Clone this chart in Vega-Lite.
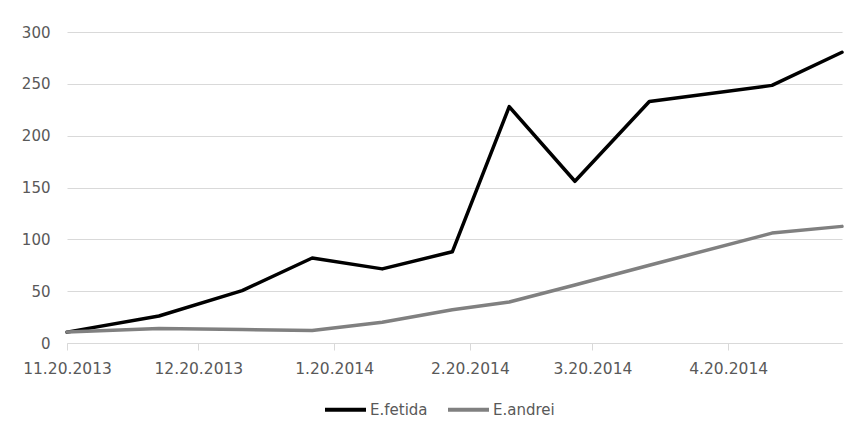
{
  "$schema": "https://vega.github.io/schema/vega-lite/v6.json",
  "width": 775,
  "height": 311,
  "autosize": {"type": "none"},
  "padding": {"left": 67, "top": 32, "right": 12, "bottom": 91},
  "background": "white",
  "config": {
    "view": {"stroke": null},
    "font": "DejaVu Sans"
  },
  "data": {
    "values": [
      {"date": "2013/11/20", "series": "E.fetida", "value": 10.5},
      {"date": "2013/12/11", "series": "E.fetida", "value": 26},
      {"date": "2013/12/30", "series": "E.fetida", "value": 50.5},
      {"date": "2014/01/15", "series": "E.fetida", "value": 82},
      {"date": "2014/01/31", "series": "E.fetida", "value": 71.5},
      {"date": "2014/02/16", "series": "E.fetida", "value": 88},
      {"date": "2014/03/01", "series": "E.fetida", "value": 228},
      {"date": "2014/03/16", "series": "E.fetida", "value": 156},
      {"date": "2014/04/02", "series": "E.fetida", "value": 233},
      {"date": "2014/04/30", "series": "E.fetida", "value": 248.5},
      {"date": "2014/05/16", "series": "E.fetida", "value": 280.5},
      {"date": "2013/11/20", "series": "E.andrei", "value": 10.5},
      {"date": "2013/12/11", "series": "E.andrei", "value": 14},
      {"date": "2013/12/30", "series": "E.andrei", "value": 13},
      {"date": "2014/01/15", "series": "E.andrei", "value": 12},
      {"date": "2014/01/31", "series": "E.andrei", "value": 20},
      {"date": "2014/02/16", "series": "E.andrei", "value": 32},
      {"date": "2014/03/01", "series": "E.andrei", "value": 39.5},
      {"date": "2014/03/16", "series": "E.andrei", "value": 56},
      {"date": "2014/04/02", "series": "E.andrei", "value": 75},
      {"date": "2014/04/30", "series": "E.andrei", "value": 106},
      {"date": "2014/05/16", "series": "E.andrei", "value": 112.5}
    ]
  },
  "mark": {"type": "line", "strokeWidth": 3.5, "strokeCap": "round", "strokeJoin": "round"},
  "encoding": {
    "x": {
      "field": "date",
      "type": "temporal",
      "title": null,
      "scale": {"domain": [{"year": 2013, "month": 11, "date": 20}, {"year": 2014, "month": 5, "date": 16}]},
      "axis": {
        "values": [
          {"year": 2013, "month": 11, "date": 20},
          {"year": 2013, "month": 12, "date": 20},
          {"year": 2014, "month": 1, "date": 20},
          {"year": 2014, "month": 2, "date": 20},
          {"year": 2014, "month": 3, "date": 20},
          {"year": 2014, "month": 4, "date": 20}
        ],
        "format": "%-m.%d.%Y",
        "grid": false,
        "domainColor": "#d9d9d9",
        "domainWidth": 1,
        "tickColor": "#d9d9d9",
        "tickSize": 7,
        "labelPadding": 11,
        "labelFontSize": 15.5,
        "labelColor": "#595959",
        "labelFlush": false,
        "labelOverlap": false
      }
    },
    "y": {
      "field": "value",
      "type": "quantitative",
      "title": null,
      "scale": {"domain": [0, 300], "nice": false},
      "axis": {
        "values": [0, 50, 100, 150, 200, 250, 300],
        "domain": false,
        "ticks": false,
        "gridColor": "#d9d9d9",
        "gridWidth": 1,
        "labelPadding": 17,
        "labelFontSize": 15,
        "labelColor": "#595959"
      }
    },
    "color": {
      "field": "series",
      "type": "nominal",
      "scale": {"domain": ["E.fetida", "E.andrei"], "range": ["#000000", "#808080"]},
      "legend": {
        "title": null,
        "orient": "none",
        "legendX": 256,
        "legendY": 355,
        "direction": "horizontal",
        "symbolType": "stroke",
        "symbolSize": 1681,
        "symbolStrokeWidth": 4,
        "labelFontSize": 15,
        "labelColor": "#595959",
        "labelOffset": 2,
        "columnPadding": 12
      }
    }
  }
}
